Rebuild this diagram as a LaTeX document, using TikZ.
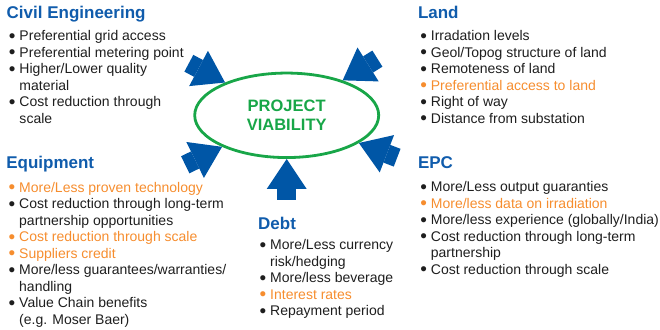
\documentclass[tikz,border=0pt]{standalone}
\usepackage{fontspec}
\setmainfont{Liberation Sans}
\usetikzlibrary{shapes.geometric,arrows.meta,calc}

\definecolor{headblue}{RGB}{16,92,172}
\definecolor{arrowblue}{RGB}{0,86,166}
\definecolor{viagreen}{RGB}{24,166,72}
\definecolor{hotorange}{RGB}{246,141,46}
\definecolor{bodytext}{RGB}{30,30,30}

\newcommand{\bitem}[1]{\makebox[10.5pt][l]{\raisebox{-1.5pt}{\scalebox{1.35}{\textbullet}}}#1}
\newcommand{\bcont}[1]{\hspace*{10.5pt}#1}
\newcommand{\oitem}[1]{\textcolor{hotorange}{\bitem{#1}}}

\tikzset{
  head/.style={anchor=base west, inner sep=0pt, text=headblue,
    font=\fontsize{17}{20}\selectfont\bfseries},
  % list nodes are placed by the baseline of their last line
  list/.style={anchor=base west, inner sep=0pt, align=left, text=bodytext,
    font=\fontsize{14}{16.5}\selectfont},
  via/.style={ellipse, draw=viagreen, line width=2.8pt, minimum width=184pt,
    minimum height=84.5pt, inner sep=0pt, align=center, text=viagreen,
    font=\fontsize{16.5}{19}\selectfont\bfseries},
  push/.style={arrowblue, line width=19pt,
    -{Triangle[length=30pt,width=40pt,line width=0pt]}}
}

\begin{document}
\begin{tikzpicture}[x=1pt,y=-1pt]
\useasboundingbox (0,0) rectangle (660,329);

\node[via] (viab) at (286.7,115.3) {PROJECT\\VIABILITY};

% the five influences
\node[head] (civil) at (6.5,19) {Civil Engineering};
\node[list] (civil items) at (8.8,123.2) {\bitem{Preferential grid access}\\
  \bitem{Preferential metering point}\\ \bitem{Higher/Lower quality}\\
  \bcont{material}\\ \bitem{Cost reduction through}\\ \bcont{scale}};

\node[head] (land) at (417.8,19) {Land};
\node[list] (land items) at (420.2,123.2) {\bitem{Irradation levels}\\
  \bitem{Geol/Topog structure of land}\\ \bitem{Remoteness of land}\\
  \oitem{Preferential access to land}\\ \bitem{Right of way}\\
  \bitem{Distance from substation}};

\node[head] (equip) at (6.1,168.3) {Equipment};
\node[list] (equip items) at (8.5,324.3) {\oitem{More/Less proven technology}\\
  \bitem{Cost reduction through long-term}\\ \bcont{partnership opportunities}\\
  \oitem{Cost reduction through scale}\\ \oitem{Suppliers credit}\\
  \bitem{More/less guarantees/warranties/}\\ \bcont{handling}\\
  \bitem{Value Chain benefits}\\ \bcont{(e.g. Moser Baer)}};

\node[head] (debt) at (258,229.3) {Debt};
\node[list] (debt items) at (259.5,315.5) {\bitem{More/Less currency}\\
  \bcont{risk/hedging}\\ \bitem{More/less beverage}\\
  \oitem{Interest rates}\\ \bitem{Repayment period}};

\node[head] (epc) at (417.8,168.3) {EPC};
\node[list] (epc items) at (420.2,274.2) {\bitem{More/Less output guaranties}\\
  \oitem{More/less data on irradiation}\\
  \bitem{More/less experience (globally/India)}\\
  \bitem{Cost reduction through long-term}\\ \bcont{partnership}\\
  \bitem{Cost reduction through scale}};

% block arrows into the ellipse
\foreach \ang/\src in {152.6/civil,32/land,206.3/equip,339.8/epc,270/debt}
{
  \coordinate (\src tail) at ($(viab.\ang)!-41pt!(viab.center)$);
  \draw[push] (\src tail) -- (viab.\ang);
}
\end{tikzpicture}
\end{document}
